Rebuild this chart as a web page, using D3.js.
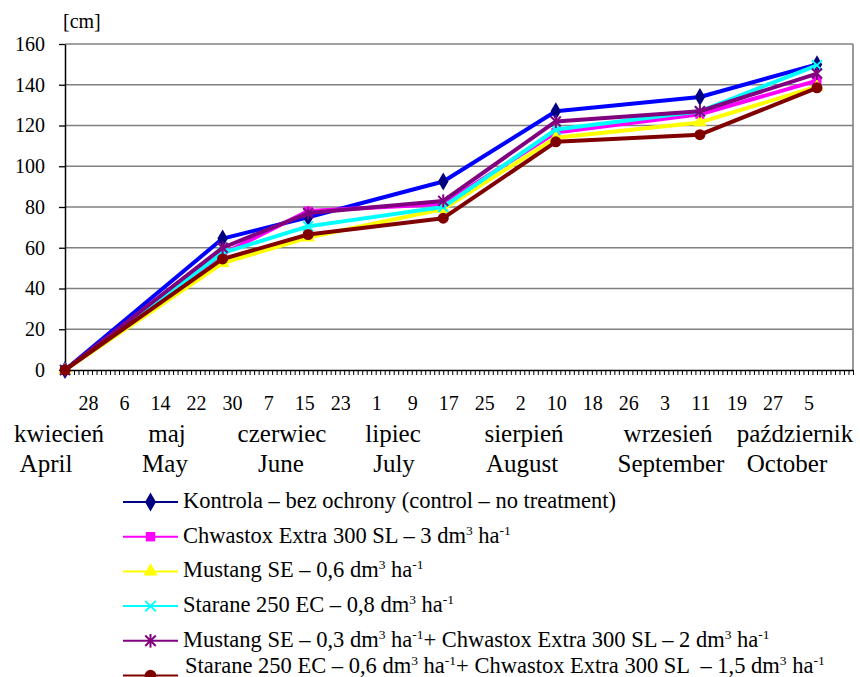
<!DOCTYPE html>
<html>
<head>
<meta charset="utf-8">
<script src="https://cdn.jsdelivr.net/npm/d3@7"></script>
<style>
  body { margin: 0; background: #fff; }
  svg, svg text { font-family: "Liberation Serif", "Tinos", "DejaVu Serif", "Noto Serif", serif; }
</style>
</head>
<body>
<script>
// Measurement dates (plant height, cm)
const measureDates = ["2003-04-24", "2003-05-29", "2003-06-17", "2003-07-17", "2003-08-11", "2003-09-12", "2003-10-08"];

// Series values [cm]
const kontrola      = [0, 64.5, 75,   92.5, 127,   134,   150];
const chwastox      = [0, 57,   78,   81.5, 116.5, 125.5, 142];
const mustang       = [0, 52.5, 65,   79,   114,   121.5, 139];
const starane       = [0, 57.5, 70.5, 80,   118,   127,   149.5];
const mustangChw    = [0, 60,   77,   83,   122,   127,   145.5];
const staraneChw    = [0, 54.5, 66.5, 74.5, 112,   115.5, 138.5];

// Legend names (^{...} marks a superscript)
const seriesNames = [
  "Kontrola – bez ochrony (control – no treatment)",
  "Chwastox Extra 300 SL – 3 dm^{3} ha^{-1}",
  "Mustang SE – 0,6 dm^{3} ha^{-1}",
  "Starane 250 EC – 0,8 dm^{3} ha^{-1}",
  "Mustang SE – 0,3 dm^{3} ha^{-1}+ Chwastox Extra 300 SL – 2 dm^{3} ha^{-1}",
  "Starane 250 EC – 0,6 dm^{3} ha^{-1}+ Chwastox Extra 300 SL  – 1,5 dm^{3} ha^{-1}"
];

// Axis ticks
const yTicks = [0, 20, 40, 60, 80, 100, 120, 140, 160];
const dayLabelStart = "2003-04-28";   // day-of-month labels every 8 days
const dayLabelEnd = "2003-10-05";
const monthsPl = ["kwiecień", "maj", "czerwiec", "lipiec", "sierpień", "wrzesień", "październik"];
const monthsEn = ["April", "May", "June", "July", "August", "September", "October"];

// ---- styling / layout ----
const FONT = '"Liberation Serif", "Tinos", "DejaVu Serif", serif';
const styles = [
  { line: "#0000ff", marker: "#000080", legendLine: "#000080", shape: "diamond" },
  { line: "#ff00ff", marker: "#ff00ff", legendLine: "#ff00ff", shape: "square" },
  { line: "#ffff00", marker: "#ffff00", legendLine: "#ffff00", shape: "triangle" },
  { line: "#00ffff", marker: "#00ffff", legendLine: "#00ffff", shape: "x" },
  { line: "#800080", marker: "#800080", legendLine: "#800080", shape: "star" },
  { line: "#800000", marker: "#800000", legendLine: "#800000", shape: "circle" }
];
const monthPlX = [59, 167, 282, 393, 524, 668, 795];
const monthEnX = [46, 165, 281, 394, 522, 671, 787];

const W = 860, H = 677;
const plot = { left: 65, right: 853, top: 44, bottom: 370 };
const parse = d3.utcParse("%Y-%m-%d");

const svg = d3.select("body").append("svg").attr("width", W).attr("height", H)
  .attr("font-family", FONT);

const x = d3.scaleUtc()
  .domain([parse("2003-04-24"), parse("2003-10-16")])
  .range([plot.left, plot.right]);
const y = d3.scaleLinear().domain([0, 160]).range([plot.bottom, plot.top]);

// gridlines
svg.append("g").selectAll("line")
  .data(yTicks.filter(d => d > 0))
  .join("line")
  .attr("x1", plot.left).attr("x2", plot.right)
  .attr("y1", d => y(d)).attr("y2", d => y(d))
  .attr("stroke", "#808080").attr("stroke-width", 1.6);

// right border of plot area
svg.append("line")
  .attr("x1", plot.right).attr("x2", plot.right)
  .attr("y1", y(160)).attr("y2", y(0))
  .attr("stroke", "#808080").attr("stroke-width", 1.6);

// y axis
const yAxis = svg.append("g")
  .attr("transform", `translate(${plot.left},0)`)
  .call(d3.axisLeft(y).tickValues(yTicks).tickSize(6).tickPadding(14).tickSizeOuter(0))
  .attr("font-family", FONT).attr("font-size", 20);
yAxis.select(".domain").attr("stroke", "#000").attr("stroke-width", 1.5);
yAxis.selectAll(".tick line").attr("stroke", "#000").attr("stroke-width", 1.3);
yAxis.selectAll("text").attr("fill", "#000");

svg.append("text").attr("x", 63).attr("y", 28)
  .attr("font-size", 20).text("[cm]");

// x axis: daily minor ticks
const days = d3.utcDay.range(x.domain()[0], d3.utcDay.offset(x.domain()[1], 1));
const xMinor = svg.append("g")
  .attr("transform", `translate(0,${plot.bottom})`)
  .call(d3.axisBottom(x).tickValues(days).tickSize(5).tickFormat("").tickSizeOuter(0));
xMinor.select(".domain").attr("stroke", "#000").attr("stroke-width", 1.5);
xMinor.selectAll(".tick line").attr("stroke", "#000").attr("stroke-width", 1);

// x axis: day-of-month labels
const labelDays = d3.utcDay.range(parse(dayLabelStart), d3.utcDay.offset(parse(dayLabelEnd), 1), 8);
const xLab = svg.append("g")
  .attr("transform", `translate(0,${plot.bottom})`)
  .call(d3.axisBottom(x).tickValues(labelDays).tickSize(0).tickPadding(26).tickFormat(d3.utcFormat("%-d")))
  .attr("font-family", FONT).attr("font-size", 20);
xLab.select(".domain").remove();
xLab.selectAll("text").attr("fill", "#000").attr("dx", 5);

// month names
svg.append("g").selectAll("text").data(monthsPl).join("text")
  .attr("x", (d, i) => monthPlX[i]).attr("y", 442)
  .attr("text-anchor", "middle").attr("font-size", 25).text(d => d);
svg.append("g").selectAll("text").data(monthsEn).join("text")
  .attr("x", (d, i) => monthEnX[i]).attr("y", 472)
  .attr("text-anchor", "middle").attr("font-size", 25).text(d => d);

// markers
function drawMarker(g, shape, color, cx, cy, scale = 1) {
  const s = scale;
  if (shape === "diamond") {
    g.append("path").attr("d", d3.symbol(d3.symbolDiamond, 95 * s * s)())
      .attr("transform", `translate(${cx},${cy})`).attr("fill", color);
  } else if (shape === "square") {
    g.append("rect").attr("x", cx - 4.5 * s).attr("y", cy - 4.5 * s)
      .attr("width", 9 * s).attr("height", 9 * s).attr("fill", color);
  } else if (shape === "triangle") {
    g.append("path").attr("d", d3.symbol(d3.symbolTriangle, 80 * s * s)())
      .attr("transform", `translate(${cx},${cy})`).attr("fill", color);
  } else if (shape === "circle") {
    g.append("circle").attr("cx", cx).attr("cy", cy).attr("r", 5.5 * s).attr("fill", color);
  } else if (shape === "x" || shape === "star") {
    const r = 5 * s;
    const segs = [[-r, -r, r, r], [-r, r, r, -r]];
    if (shape === "star") segs.push([0, -r * 1.3, 0, r * 1.3]);
    segs.forEach(([a, b, c, d]) => {
      g.append("line").attr("x1", cx + a).attr("y1", cy + b).attr("x2", cx + c).attr("y2", cy + d)
        .attr("stroke", color).attr("stroke-width", 2);
    });
  }
}

// series
const allSeries = [kontrola, chwastox, mustang, starane, mustangChw, staraneChw];
const dates = measureDates.map(parse);
const line = d3.line().x(d => x(d[0])).y(d => y(d[1]));

allSeries.forEach((vals, i) => {
  const st = styles[i];
  const pts = vals.map((v, j) => [dates[j], v]);
  const g = svg.append("g");
  g.append("path").datum(pts).attr("d", line)
    .attr("fill", "none").attr("stroke", st.line).attr("stroke-width", 4)
    .attr("stroke-linejoin", "round");
  pts.forEach(p => drawMarker(g, st.shape, st.marker, x(p[0]), y(p[1])));
});

// legend
function richText(t, str, size) {
  const re = /\^\{([^}]*)\}/g;
  let last = 0, m, shifted = false;
  while ((m = re.exec(str)) !== null) {
    if (m.index > last) {
      t.append("tspan").attr("dy", shifted ? 8 : 0).text(str.slice(last, m.index));
      shifted = false;
    }
    t.append("tspan").attr("dy", shifted ? 0 : -8).attr("font-size", size * 0.6).text(m[1]);
    shifted = true;
    last = re.lastIndex;
  }
  if (last < str.length) t.append("tspan").attr("dy", shifted ? 8 : 0).text(str.slice(last));
}

const legend = svg.append("g");
const legTop = 502, legStep = 34.7, legFont = 22.5;
seriesNames.forEach((name, i) => {
  const st = styles[i];
  const ly = legTop + i * legStep;
  legend.append("line").attr("x1", 123).attr("x2", 178).attr("y1", ly).attr("y2", ly)
    .attr("stroke", st.legendLine).attr("stroke-width", 2);
  drawMarker(legend, st.shape, st.marker, 150.5, ly, 1.05);
  const ty = i === 5 ? ly - 3 : ly + 6;
  const t = legend.append("text").attr("x", i === 5 ? 185 : 183).attr("y", ty).attr("font-size", legFont)
    .attr("xml:space", "preserve").style("white-space", "pre");
  richText(t, name, legFont);
});
</script>
</body>
</html>
